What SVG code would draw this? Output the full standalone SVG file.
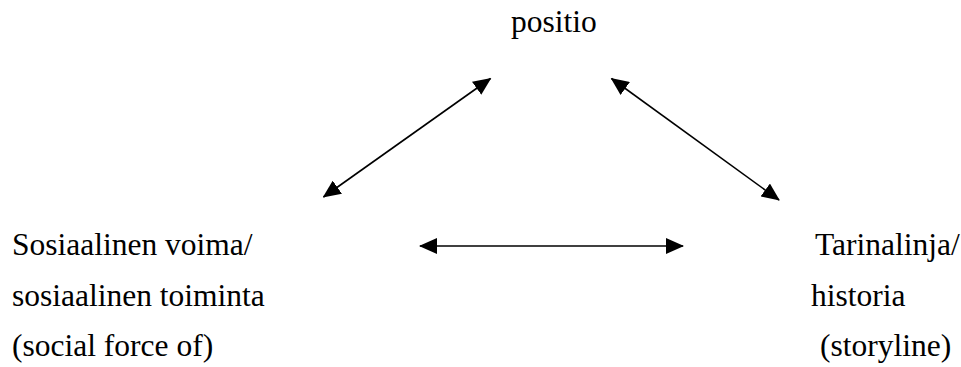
<svg xmlns="http://www.w3.org/2000/svg" width="961" height="367" viewBox="0 0 961 367">
  <style>
    .t { font-family: 'Liberation Serif', 'Times New Roman', serif; font-size: 31.5px; fill: #000; }
    .c { stroke: #000; stroke-width: 1.6; fill: none; marker-start: url(#ah); marker-end: url(#ah); }
  </style>
  <defs>
    <marker id="ah" viewBox="0 0 18 16" refX="17" refY="8" markerWidth="18" markerHeight="16" markerUnits="userSpaceOnUse" orient="auto-start-reverse">
      <path d="M0,0 L18,8 L0,16 Z" fill="#000"/>
    </marker>
  </defs>
  <rect width="961" height="367" fill="#fff"/>
  <g id="node-positio">
    <text class="t" x="511" y="32">positio</text>
  </g>
  <g id="node-sosiaalinen">
    <text class="t" x="12" y="255">Sosiaalinen voima/</text>
    <text class="t" x="12" y="306">sosiaalinen toiminta</text>
    <text class="t" x="12" y="356">(social force of)</text>
  </g>
  <g id="node-tarinalinja">
    <text class="t" x="815" y="255">Tarinalinja/</text>
    <text class="t" x="811" y="306">historia</text>
    <text class="t" x="820" y="356">(storyline)</text>
  </g>
  <g id="connectors">
    <line class="c" x1="323.5" y1="197" x2="490.5" y2="78.5"/>
    <line class="c" x1="611.5" y1="78.5" x2="779" y2="200"/>
    <line class="c" x1="420" y1="246" x2="683" y2="246"/>
  </g>
</svg>
